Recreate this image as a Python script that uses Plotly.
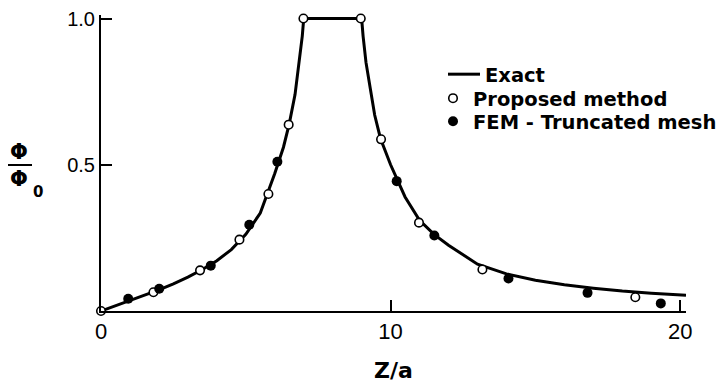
import plotly.graph_objects as go

# ---- data ----
exact_z = [0, 0.5, 1, 1.5, 2, 2.5, 3, 3.5, 4, 4.5, 5, 5.5, 6, 6.3, 6.5, 6.7, 6.85, 6.95, 7.0,
           9.0, 9.05, 9.15, 9.3, 9.45, 9.65, 10, 10.5, 11, 11.5, 12, 13, 14, 15, 16, 17, 18, 19, 20.2]
exact_phi = [0, 0.018, 0.037, 0.054, 0.072, 0.093, 0.116, 0.142, 0.172, 0.21, 0.262, 0.335, 0.47,
             0.56, 0.64, 0.74, 0.85, 0.94, 1.0,
             1.0, 0.94, 0.85, 0.76, 0.67, 0.59, 0.50, 0.39, 0.31, 0.262, 0.225, 0.16, 0.127,
             0.105, 0.09, 0.078, 0.068, 0.061, 0.054]

proposed_z = [0, 1.81, 3.42, 4.78, 5.78, 6.48, 6.99, 8.97, 9.67, 10.98, 13.17, 18.45]
proposed_phi = [0, 0.064, 0.139, 0.244, 0.40, 0.637, 1.0, 1.0, 0.587, 0.302, 0.142, 0.047]

fem_z = [0.94, 2.01, 3.79, 5.12, 6.09, 10.21, 11.51, 14.07, 16.8, 19.33]
fem_phi = [0.042, 0.076, 0.155, 0.295, 0.51, 0.444, 0.258, 0.111, 0.062, 0.026]

x_tickvals = [0, 10, 20]
x_ticktext = ["0", "10", "20"]
y_tickvals = [0.5, 1.0]
y_ticktext = ["0.5", "1.0"]

# ---- layout constants ----
W, H = 722, 383
ML, MR, MT, MB = 101, 36, 15, 72
PW, PH = W - ML - MR, H - MT - MB
Y_TOP = 1.012


def px_x(p):
    return (p - ML) / PW


def px_y(p):
    return (H - MB - p) / PH


BOLD = "DejaVu Sans"
REG = "Liberation Sans"

fig = go.Figure()
fig.add_trace(go.Scatter(
    x=exact_z, y=exact_phi, mode="lines", name="Exact",
    line=dict(color="black", width=3), cliponaxis=False, legend="legend"))
fig.add_trace(go.Scatter(
    x=proposed_z, y=proposed_phi, mode="markers", name="Proposed method",
    marker=dict(symbol="circle", size=8.5, color="white", line=dict(color="black", width=1.6)),
    cliponaxis=False, legend="legend2"))
fig.add_trace(go.Scatter(
    x=fem_z, y=fem_phi, mode="markers", name="FEM - Truncated mesh",
    marker=dict(symbol="circle", size=10, color="black", line=dict(width=0)),
    cliponaxis=False, legend="legend3"))

legfont = dict(family=BOLD, size=19.5, color="black", weight="bold")


def leg(xpx, ypx, iw=30):
    return dict(x=px_x(xpx), y=px_y(ypx), xanchor="left", yanchor="top",
                font=legfont, bgcolor="rgba(0,0,0,0)", itemwidth=iw,
                borderwidth=0, tracegroupgap=0)


fig.update_layout(
    width=W, height=H,
    margin=dict(l=ML, r=MR, t=MT, b=MB, autoexpand=False),
    paper_bgcolor="white", plot_bgcolor="white",
    showlegend=True,
    legend=leg(443, 55, 32),
    legend2=leg(433, 79),
    legend3=leg(433, 102),
    xaxis=dict(range=[0, 20.2], showgrid=False, zeroline=False, automargin=False,
               showline=True, linecolor="black", linewidth=2,
               ticks="inside", ticklen=11, tickwidth=1.5, tickcolor="black",
               tickvals=x_tickvals, ticktext=x_ticktext,
               tickfont=dict(family=REG, size=22, color="black"),
               title=dict(text="Z/a", font=dict(family=BOLD, size=22, color="black", weight="bold"),
                          standoff=25)),
    yaxis=dict(range=[0, Y_TOP], showgrid=False, zeroline=False, automargin=False,
               showline=True, linecolor="black", linewidth=2,
               ticks="inside", ticklen=11, tickwidth=1.5, tickcolor="black",
               tickvals=y_tickvals, ticktext=y_ticktext,
               tickfont=dict(family=REG, size=20, color="black")),
)

# y-axis label: Phi over Phi_0 (two-line block, separate subscript, bar as a shape)
fig.add_annotation(x=px_x(19), y=px_y(165.5), xref="paper", yref="paper",
                   text="Φ<br>Φ", align="center",
                   showarrow=False, font=dict(family=BOLD, size=21, color="black", weight="bold"),
                   xanchor="center", yanchor="middle")
fig.add_annotation(x=px_x(38), y=px_y(192), xref="paper", yref="paper", text="0",
                   showarrow=False, font=dict(family=BOLD, size=15, color="black", weight="bold"),
                   xanchor="center", yanchor="middle")
fig.add_shape(type="line", xref="paper", yref="paper",
              x0=px_x(8), x1=px_x(32), y0=px_y(165), y1=px_y(165),
              line=dict(color="black", width=2))

fig.write_html("out.html")
